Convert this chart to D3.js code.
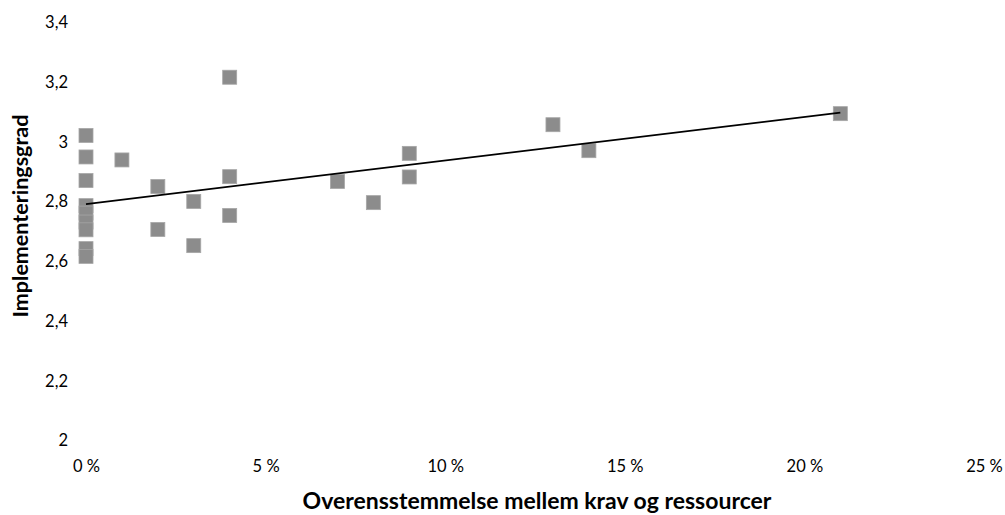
<!DOCTYPE html>
<html>
<head>
<meta charset="utf-8">
<script src="https://cdn.jsdelivr.net/npm/d3@7"></script>
<style>
  html, body { margin: 0; padding: 0; background: #fff; }
  svg text { font-family: Lato, "Open Sans", sans-serif; fill: #000; }
</style>
</head>
<body>
<script>
// Data (x as share, y = implementeringsgrad)
const xValues = [0, 0, 0, 0, 0, 0, 0, 0, 0,
                 0.01, 0.02, 0.02, 0.03, 0.03, 0.04, 0.04, 0.04,
                 0.07, 0.08, 0.09, 0.09, 0.13, 0.14, 0.21];
const yValues = [3.02, 2.948, 2.869, 2.785, 2.76, 2.73, 2.704, 2.641, 2.615,
                 2.938, 2.849, 2.705, 2.799, 2.651, 3.215, 2.882, 2.752,
                 2.866, 2.795, 2.960, 2.881, 3.056, 2.969, 3.093];
const xTicks = [0, 0.05, 0.10, 0.15, 0.20, 0.25];
const yTicks = [2, 2.2, 2.4, 2.6, 2.8, 3, 3.2, 3.4];
const xTitle = "Overensstemmelse mellem krav og ressourcer";
const yTitle = "Implementeringsgrad";

const W = 1005, H = 515;
const svg = d3.select("body").append("svg").attr("width", W).attr("height", H);

const x = d3.scaleLinear().domain([0, 0.25]).range([86, 984]);
const y = d3.scaleLinear().domain([2, 3.4]).range([440, 22]);

const pts = xValues.map((v, i) => ({x: v, y: yValues[i]}));

// Y axis labels
const yAxis = d3.axisLeft(y).tickValues(yTicks).tickSize(0).tickPadding(0)
  .tickFormat(d => String(+d.toFixed(1)).replace(".", ","));
svg.append("g").attr("transform", "translate(68,0)").call(yAxis)
  .call(g => g.select(".domain").remove())
  .selectAll("text").attr("font-size", 16.5).attr("font-family", "Lato, sans-serif").attr("dy", "0.35em");

// X axis labels
const xAxis = d3.axisBottom(x).tickValues(xTicks).tickSize(0).tickPadding(0)
  .tickFormat(d => Math.round(d * 100) + " %");
svg.append("g").attr("transform", "translate(0,466)").call(xAxis)
  .call(g => g.select(".domain").remove())
  .selectAll("text").attr("font-size", 16.5).attr("font-family", "Lato, sans-serif").attr("dy", "0.35em");

// Markers
const s = 14;
svg.append("g").selectAll("rect").data(pts).join("rect")
  .attr("x", d => x(d.x) - s / 2)
  .attr("y", d => y(d.y) - s / 2)
  .attr("width", s).attr("height", s)
  .attr("fill", "#8c8c8c")
  .attr("stroke", "#a6a6a6").attr("stroke-width", 0.8);

// Linear trend line (least squares)
const mx = d3.mean(pts, d => d.x), my = d3.mean(pts, d => d.y);
const sxy = d3.sum(pts, d => (d.x - mx) * (d.y - my));
const sxx = d3.sum(pts, d => (d.x - mx) ** 2);
const b = sxy / sxx, a = my - b * mx;
const [x0, x1] = d3.extent(pts, d => d.x);
svg.append("line")
  .attr("x1", x(x0)).attr("y1", y(a + b * x0))
  .attr("x2", x(x1)).attr("y2", y(a + b * x1))
  .attr("stroke", "#000").attr("stroke-width", 1.8);

// Axis titles
svg.append("text").attr("x", 537).attr("y", 500).attr("text-anchor", "middle")
  .attr("dominant-baseline", "central")
  .attr("font-size", 23).attr("font-weight", "bold").text(xTitle);
svg.append("text").attr("transform", "translate(20,216) rotate(-90)")
  .attr("text-anchor", "middle").attr("dominant-baseline", "central")
  .attr("font-size", 21.5).attr("font-weight", "bold").text(yTitle);
</script>
</body>
</html>
